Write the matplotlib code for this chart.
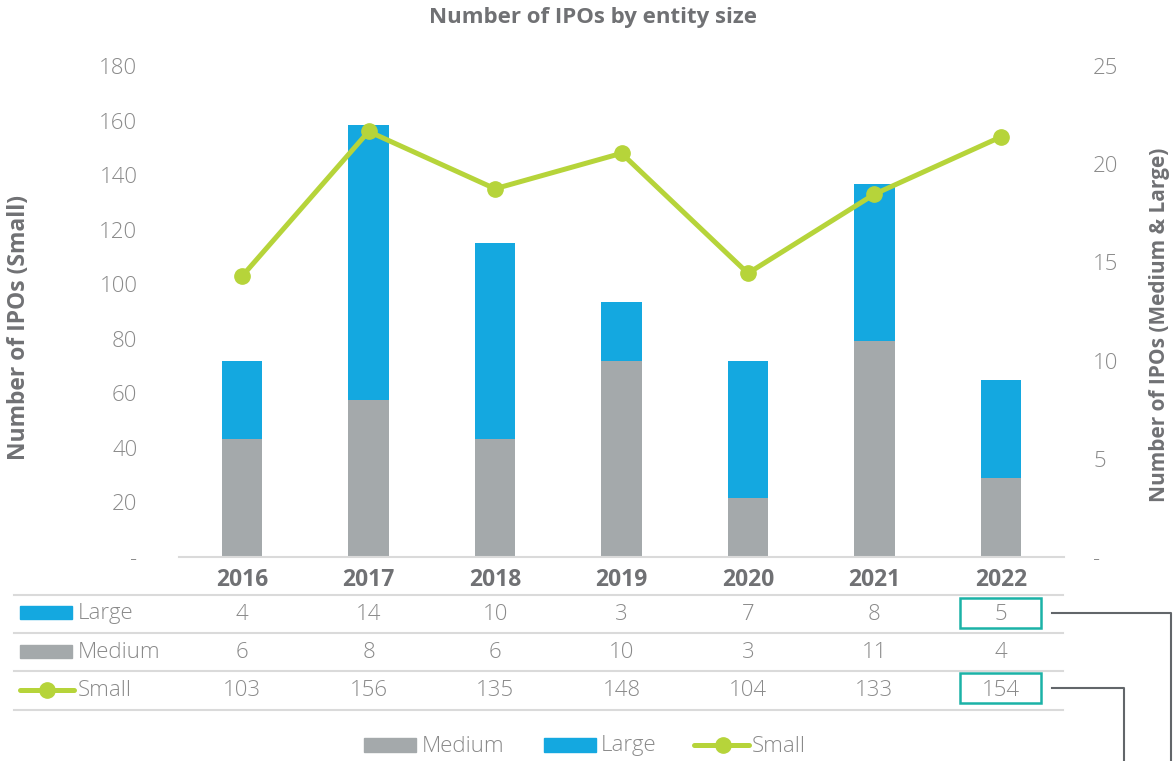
import matplotlib
matplotlib.use('Agg')
import matplotlib.pyplot as plt
from matplotlib.transforms import blended_transform_factory
from matplotlib.lines import Line2D
from matplotlib.patches import Rectangle

# ---------------- data ----------------
years = ['2016', '2017', '2018', '2019', '2020', '2021', '2022']
large = [4, 14, 10, 3, 7, 8, 5]
medium = [6, 8, 6, 10, 3, 11, 4]
small = [103, 156, 135, 148, 104, 133, 154]
left_ticks = [0, 20, 40, 60, 80, 100, 120, 140, 160, 180]
right_ticks = [0, 5, 10, 15, 20, 25]
title = 'Number of IPOs by entity size'
left_label = 'Number of IPOs (Small)'
right_label = 'Number of IPOs (Medium & Large)'
highlight_year = '2022'

# ---------------- style ----------------
C_LARGE = '#14A8E0'
C_MED = '#A4A9AB'
C_SMALL = '#B6D43A'
C_TEXT = '#8A8A8A'
C_BOLD = '#707174'
C_GRID = '#DADADA'
C_TEAL = '#1BB2A7'
C_CONN = '#62666A'
FAM = ['Open Sans', 'DejaVu Sans']
plt.rcParams['font.family'] = FAM
FS = 16

W, H = 1176, 761
fig = plt.figure(figsize=(W / 100, H / 100), dpi=100)


def fx(x):
    return x / W


def fy(y):
    return 1 - y / H


ax = fig.add_axes([fx(179), fy(557), fx(1064) - fx(179), fy(66) - fy(557)])
ax2 = ax.twinx()
xs = list(range(len(years)))

ax2.bar(xs, medium, width=0.32, color=C_MED, zorder=2)
ax2.bar(xs, large, bottom=medium, width=0.32, color=C_LARGE, zorder=2)
ax.plot(xs, small, color=C_SMALL, lw=3.6, marker='o', ms=11, zorder=3)

ax.set_zorder(ax2.get_zorder() + 1)
ax.patch.set_visible(False)

ax.set_xlim(-0.5, len(years) - 0.5)
ax.set_ylim(left_ticks[0], left_ticks[-1])
ax2.set_ylim(right_ticks[0], right_ticks[-1])

ax.set_yticks(left_ticks)
ax.set_yticklabels(['-' if v == 0 else str(v) for v in left_ticks])
ax2.set_yticks(right_ticks)
ax2.set_yticklabels(['-' if v == 0 else str(v) for v in right_ticks])
ax.set_xticks(xs)
ax.set_xticklabels(years, fontweight='bold', color=C_BOLD, fontsize=16.5)

for a in (ax, ax2):
    for s in a.spines.values():
        s.set_visible(False)
ax.spines['bottom'].set_visible(True)
ax.spines['bottom'].set_color(C_GRID)
ax.spines['bottom'].set_linewidth(1.5)

ax.tick_params(axis='y', length=0, pad=30, labelsize=FS, labelcolor=C_TEXT)
ax2.tick_params(axis='y', length=0, pad=21, labelsize=FS, labelcolor=C_TEXT)
ax.tick_params(axis='x', length=0, pad=8)
for lab in ax.get_yticklabels() + ax2.get_yticklabels():
    lab.set_fontweight('light')

# titles / axis labels
fig.text(fx(593), fy(18), title, ha='center', va='center', fontsize=16,
         fontweight='bold', color=C_BOLD)
fig.text(fx(19), fy(327), left_label, ha='center', va='center', rotation=90,
         fontsize=16.5, fontweight='bold', color=C_BOLD)
fig.text(fx(1160), fy(325), right_label, ha='center', va='center', rotation=90,
         fontsize=15, fontweight='bold', color=C_BOLD)

# ---------------- data table ----------------
tr = blended_transform_factory(ax.transData, fig.transFigure)
row_lines = [595, 633, 671, 710]
row_centers = [614, 653, 691]
rows = [('Large', large), ('Medium', medium), ('Small', small)]

for yl in row_lines:
    fig.add_artist(Line2D([fx(14), fx(1063)], [fy(yl), fy(yl)], color=C_GRID, lw=1.5))

for (name, vals), yc in zip(rows, row_centers):
    for xi, v in zip(xs, vals):
        ax.text(xi, fy(yc), str(v), transform=tr, ha='center', va='center',
                fontsize=FS, color=C_TEXT, fontweight='light', clip_on=False)
    fig.text(fx(78), fy(yc), name, ha='left', va='center', fontsize=FS,
             color=C_TEXT, fontweight='light')

# table icons
fig.add_artist(Rectangle((fx(20), fy(619)), fx(72) - fx(20), fy(606) - fy(619),
                         color=C_LARGE, transform=fig.transFigure))
fig.add_artist(Rectangle((fx(20), fy(658)), fx(72) - fx(20), fy(645) - fy(658),
                         color=C_MED, transform=fig.transFigure))
fig.add_artist(Line2D([fx(20), fx(74)], [fy(690), fy(690)], color=C_SMALL, lw=3.6,
                      solid_capstyle='round'))
fig.add_artist(Line2D([fx(47)], [fy(690)], color=C_SMALL, marker='o', ms=11))

# highlight boxes + connectors
hi = years.index(highlight_year)
box_w = 0.64
for yc, xend in ((613, 1171), (688, 1124)):
    ax.add_patch(Rectangle((hi - box_w / 2, fy(yc + 15)), box_w, fy(yc - 15) - fy(yc + 15),
                           transform=tr, fill=False, edgecolor=C_TEAL, lw=1.8,
                           clip_on=False))
    fig.add_artist(Line2D([fx(1052), fx(xend), fx(xend)], [fy(yc), fy(yc), fy(765)],
                          color=C_CONN, lw=1.5))

# ---------------- legend ----------------
ly = 746
fig.add_artist(Rectangle((fx(364), fy(752)), fx(416) - fx(364), fy(738) - fy(752),
                         color=C_MED, transform=fig.transFigure))
fig.text(fx(422), fy(ly), 'Medium', ha='left', va='center', fontsize=FS,
         color=C_TEXT, fontweight='light')
fig.add_artist(Rectangle((fx(544), fy(752)), fx(596) - fx(544), fy(738) - fy(752),
                         color=C_LARGE, transform=fig.transFigure))
fig.text(fx(601), fy(ly), 'Large', ha='left', va='center', fontsize=FS,
         color=C_TEXT, fontweight='light')
fig.add_artist(Line2D([fx(694), fx(749)], [fy(745), fy(745)], color=C_SMALL, lw=3.6,
                      solid_capstyle='round'))
fig.add_artist(Line2D([fx(723)], [fy(745)], color=C_SMALL, marker='o', ms=11))
fig.text(fx(752), fy(ly), 'Small', ha='left', va='center', fontsize=FS,
         color=C_TEXT, fontweight='light')

fig.savefig('out.png', dpi=100, facecolor='white')
